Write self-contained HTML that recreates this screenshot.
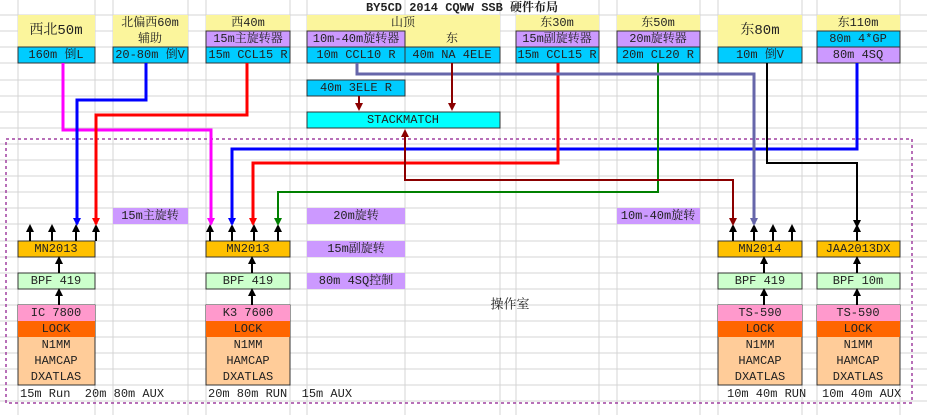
<!DOCTYPE html>
<html><head><meta charset="utf-8"><style>
body{margin:0;background:#fff}
svg{display:block}
text{font-family:"Liberation Mono","Noto Serif CJK SC",monospace;font-size:12px;fill:#222;text-anchor:middle;dominant-baseline:central}
.pre{white-space:pre}
</style></head><body>
<svg width="927" height="415" viewBox="0 0 927 415" xmlns="http://www.w3.org/2000/svg">
<defs>
<marker id="ak" markerWidth="8" markerHeight="8" refX="4" refY="4" orient="auto" markerUnits="userSpaceOnUse"><path d="M0,0L8,4L0,8z" fill="#000"/></marker>
<marker id="am" markerWidth="8" markerHeight="8" refX="6" refY="4" orient="auto" markerUnits="userSpaceOnUse"><path d="M0,0L8,4L0,8z" fill="#ff00ff"/></marker>
<marker id="ab" markerWidth="8" markerHeight="8" refX="6" refY="4" orient="auto" markerUnits="userSpaceOnUse"><path d="M0,0L8,4L0,8z" fill="#0000ff"/></marker>
<marker id="ar" markerWidth="8" markerHeight="8" refX="6" refY="4" orient="auto" markerUnits="userSpaceOnUse"><path d="M0,0L8,4L0,8z" fill="#ff0000"/></marker>
<marker id="ag" markerWidth="8" markerHeight="8" refX="6" refY="4" orient="auto" markerUnits="userSpaceOnUse"><path d="M0,0L8,4L0,8z" fill="#008000"/></marker>
<marker id="ad" markerWidth="8" markerHeight="8" refX="6" refY="4" orient="auto" markerUnits="userSpaceOnUse"><path d="M0,0L8,4L0,8z" fill="#8b0000"/></marker>
<marker id="as" markerWidth="8" markerHeight="8" refX="6" refY="4" orient="auto" markerUnits="userSpaceOnUse"><path d="M0,0L8,4L0,8z" fill="#6666aa"/></marker>
</defs>
<g stroke="#d4d4d4" stroke-width="1">
<path d="M0,15H927M0,31H927M0,47H927M0,63H927M0,80H927M0,96H927M0,112H927M0,128H927M0,144H927M0,160H927M0,176H927M0,192H927M0,208H927M0,224H927M0,241H927M0,257H927M0,273H927M0,289H927M0,305H927M0,321H927M0,337H927M0,353H927M0,369H927M0,385H927M0,401H927"/>
<path d="M18,0V415M95,0V415M113,0V415M188,0V415M206,0V415M290,0V415M307,0V415M405,0V415M500,0V415M516,0V415M599,0V415M617,0V415M700,0V415M718,0V415M802,0V415M817,0V415M900,0V415"/>
</g>
<text x="462" y="8" style="font-weight:bold">BY5CD 2014 CQWW SSB 硬件布局</text>
<g stroke="#333" stroke-width="1">
<rect x="18" y="15" width="77" height="32" fill="#fbf59c" stroke="none"/>
<rect x="113" y="15" width="75" height="32" fill="#fbf59c" stroke="none"/>
<rect x="206" y="15" width="84" height="16" fill="#fbf59c" stroke="none"/>
<rect x="307" y="15" width="193" height="16" fill="#fbf59c" stroke="none"/>
<rect x="405" y="31" width="95" height="16" fill="#fbf59c" stroke="none"/>
<rect x="516" y="15" width="83" height="16" fill="#fbf59c" stroke="none"/>
<rect x="617" y="15" width="83" height="16" fill="#fbf59c" stroke="none"/>
<rect x="718" y="15" width="84" height="32" fill="#fbf59c" stroke="none"/>
<rect x="817" y="15" width="83" height="16" fill="#fbf59c" stroke="none"/>
<rect x="206" y="31" width="84" height="16" fill="#cc99ff"/>
<rect x="307" y="31" width="98" height="16" fill="#cc99ff"/>
<rect x="516" y="31" width="83" height="16" fill="#cc99ff"/>
<rect x="617" y="31" width="83" height="16" fill="#cc99ff"/>
<rect x="817" y="31" width="83" height="16" fill="#00ccff"/>
<rect x="18" y="47" width="77" height="16" fill="#00ccff"/>
<rect x="113" y="47" width="75" height="16" fill="#00ccff"/>
<rect x="206" y="47" width="84" height="16" fill="#00ccff"/>
<rect x="307" y="47" width="98" height="16" fill="#00ccff"/>
<rect x="405" y="47" width="95" height="16" fill="#00ccff"/>
<rect x="516" y="47" width="83" height="16" fill="#00ccff"/>
<rect x="617" y="47" width="83" height="16" fill="#00ccff"/>
<rect x="718" y="47" width="84" height="16" fill="#00ccff"/>
<rect x="817" y="47" width="83" height="16" fill="#cc99ff"/>
<rect x="307" y="80" width="98" height="16" fill="#00ccff"/>
<rect x="307" y="112" width="193" height="16" fill="#00ffff"/>
</g>
<text x="56" y="31" style="font-size:14px">西北50m</text>
<text x="150" y="23">北偏西60m</text>
<text x="150" y="39">辅助</text>
<text x="248" y="23">西40m</text>
<text x="403" y="23">山顶</text>
<text x="452" y="39">东</text>
<text x="557" y="23">东30m</text>
<text x="658" y="23">东50m</text>
<text x="760" y="31" style="font-size:14px">东80m</text>
<text x="858" y="23">东110m</text>
<text x="248" y="39">15m主旋转器</text>
<text x="356" y="39">10m-40m旋转器</text>
<text x="557" y="39">15m副旋转器</text>
<text x="658" y="39">20m旋转器</text>
<text x="858" y="39">80m 4*GP</text>
<text x="56" y="55">160m 倒L</text>
<text x="150" y="55">20-80m 倒V</text>
<text x="248" y="55">15m CCL15 R</text>
<text x="356" y="55">10m CCL10 R</text>
<text x="452" y="55">40m NA 4ELE</text>
<text x="557" y="55">15m CCL15 R</text>
<text x="658" y="55">20m CL20 R</text>
<text x="760" y="55">10m 倒V</text>
<text x="858" y="55">80m 4SQ</text>
<text x="356" y="88">40m 3ELE R</text>
<text x="403" y="120">STACKMATCH</text>
<rect x="6" y="139" width="906" height="264" fill="none" stroke="#a040a0" stroke-width="1.5" stroke-dasharray="3,3"/>
<g fill="#cc99ff">
<rect x="113" y="208" width="75" height="16"/>
<rect x="307" y="208" width="98" height="16"/>
<rect x="307" y="241" width="98" height="16"/>
<rect x="307" y="273" width="98" height="16"/>
<rect x="617" y="208" width="83" height="16"/>
</g>
<text x="150" y="216">15m主旋转</text>
<text x="356" y="216">20m旋转</text>
<text x="356" y="249">15m副旋转</text>
<text x="356" y="281">80m 4SQ控制</text>
<text x="658" y="216">10m-40m旋转</text>
<text x="510" y="305" style="font-size:13px">操作室</text>
<g stroke="#333" stroke-width="1">
<rect x="18" y="241" width="77" height="16" fill="#ffc000"/>
<rect x="206" y="241" width="84" height="16" fill="#ffc000"/>
<rect x="718" y="241" width="84" height="16" fill="#ffc000"/>
<rect x="817" y="241" width="83" height="16" fill="#ffc000"/>
<rect x="18" y="273" width="77" height="16" fill="#ccffcc"/>
<rect x="206" y="273" width="84" height="16" fill="#ccffcc"/>
<rect x="718" y="273" width="84" height="16" fill="#ccffcc"/>
<rect x="817" y="273" width="83" height="16" fill="#ccffcc"/>
<rect x="18" y="305" width="77" height="80" fill="#ffcc99"/>
<rect x="206" y="305" width="84" height="80" fill="#ffcc99"/>
<rect x="718" y="305" width="84" height="80" fill="#ffcc99"/>
<rect x="817" y="305" width="83" height="80" fill="#ffcc99"/>
</g>
<g>
<rect x="18" y="305" width="77" height="16" fill="#ff99cc"/>
<rect x="206" y="305" width="84" height="16" fill="#ff99cc"/>
<rect x="718" y="305" width="84" height="16" fill="#ff99cc"/>
<rect x="817" y="305" width="83" height="16" fill="#ff99cc"/>
<rect x="18" y="321" width="77" height="16" fill="#ff6600"/>
<rect x="206" y="321" width="84" height="16" fill="#ff6600"/>
<rect x="718" y="321" width="84" height="16" fill="#ff6600"/>
<rect x="817" y="321" width="83" height="16" fill="#ff6600"/>
</g>
<g>
<text x="56" y="249">MN2013</text><text x="248" y="249">MN2013</text><text x="760" y="249">MN2014</text><text x="858" y="249">JAA2013DX</text>
<text x="56" y="281">BPF 419</text><text x="248" y="281">BPF 419</text><text x="760" y="281">BPF 419</text><text x="858" y="281">BPF 10m</text>
<text x="56" y="313">IC 7800</text><text x="248" y="313">K3 7600</text><text x="760" y="313">TS-590</text><text x="858" y="313">TS-590</text>
<text x="56" y="329">LOCK</text><text x="248" y="329">LOCK</text><text x="760" y="329">LOCK</text><text x="858" y="329">LOCK</text>
<text x="56" y="345">N1MM</text><text x="248" y="345">N1MM</text><text x="760" y="345">N1MM</text><text x="858" y="345">N1MM</text>
<text x="56" y="361">HAMCAP</text><text x="248" y="361">HAMCAP</text><text x="760" y="361">HAMCAP</text><text x="858" y="361">HAMCAP</text>
<text x="56" y="377">DXATLAS</text><text x="248" y="377">DXATLAS</text><text x="760" y="377">DXATLAS</text><text x="858" y="377">DXATLAS</text>
</g>
<text class="pre" x="20" y="394" style="text-anchor:start">15m Run  20m 80m AUX</text>
<text class="pre" x="208" y="394" style="text-anchor:start">20m 80m RUN  15m AUX</text>
<text class="pre" x="727" y="394" style="text-anchor:start">10m 40m RUN</text>
<text class="pre" x="822" y="394" style="text-anchor:start">10m 40m AUX</text>
<g stroke="#000" stroke-width="2" marker-end="url(#ak)">
<path d="M30,241V228"/><path d="M52,241V228"/><path d="M76,241V228"/><path d="M96,241V228"/>
<path d="M210,241V228"/><path d="M232,241V228"/><path d="M254,241V228"/><path d="M278,241V228"/>
<path d="M733,241V228"/><path d="M754,241V228"/><path d="M773,241V228"/><path d="M792,241V228"/>
<path d="M857,241V228"/>
<path d="M59,273V260"/><path d="M59,305V292"/>
<path d="M252,273V260"/><path d="M252,305V292"/>
<path d="M764,273V260"/><path d="M764,305V292"/>
<path d="M857,273V260"/><path d="M857,305V292"/>
</g>
<g fill="none" stroke-width="3">
<path d="M63,63V130H211V224" stroke="#ff00ff" marker-end="url(#am)"/>
<path d="M146,63V100H77V224" stroke="#0000ff" marker-end="url(#ab)"/>
<path d="M247,63V115H96V224" stroke="#ff0000" marker-end="url(#ar)"/>
<path d="M857,63V149H232V224" stroke="#0000ff" marker-end="url(#ab)"/>
<path d="M558,63V163H253V224" stroke="#ff0000" marker-end="url(#ar)"/>
<path d="M658,63V192H278V224" stroke="#008000" stroke-width="2" marker-end="url(#ag)"/>
<path d="M357,63V74H754V224" stroke="#6666aa" marker-end="url(#as)"/>
<path d="M767,63V163H857V224" stroke="#000" stroke-width="2" marker-end="url(#ak)"/>
<path d="M405,131V180H733V224" stroke="#8b0000" stroke-width="2" marker-end="url(#ad)"/>
<path d="M405,165V131" stroke="#8b0000" stroke-width="2" marker-end="url(#ad)"/>
<path d="M452,63V109" stroke="#8b0000" stroke-width="2" marker-end="url(#ad)"/>
<path d="M359,96V109" stroke="#8b0000" stroke-width="2" marker-end="url(#ad)"/>
</g>
</svg>
</body></html>
